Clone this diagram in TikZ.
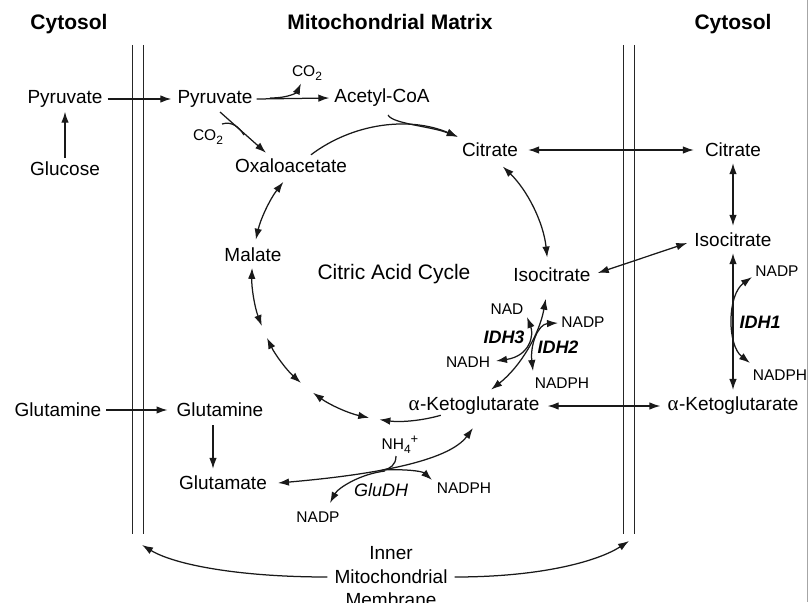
\documentclass[tikz,border=0pt]{standalone}
\usepackage{fontspec}
\setmainfont{Liberation Sans}
\newfontfamily\grk{Liberation Serif}
\usetikzlibrary{arrows.meta,calc}
\newcommand\alphaK{{\grk\fontsize{21}{22}\selectfont α}\kern0.5pt-Ketoglutarate}
\newcommand\cotwo{CO\raisebox{-0.45ex}{\fontsize{12}{12}\selectfont 2}}
\begin{document}
\begin{tikzpicture}[x=1pt,y=1pt,
  lbl/.style={inner sep=0pt, font=\fontsize{19}{22}\selectfont},
  sml/.style={inner sep=0pt, font=\fontsize{15.5}{18}\selectfont},
  hdr/.style={inner sep=0pt, anchor=base, font=\bfseries\fontsize{21}{24}\selectfont},
  enz/.style={inner sep=0pt, font=\bfseries\itshape\fontsize{18}{21}\selectfont},
  enzi/.style={inner sep=0pt, font=\itshape\fontsize{18}{21}\selectfont},
  ln/.style={line width=1.25pt, draw=black!90},
  arr/.style={ln, -{Latex[length=11pt,width=7.5pt]}},
  dbl/.style={ln, {Latex[length=11pt,width=7.5pt]}-{Latex[length=11pt,width=7.5pt]}},
  mem/.style={line width=0.9pt, draw=black!85}
]
\useasboundingbox (0,0) rectangle (808,-602);
\draw[gray!70, line width=1pt] (807,0) -- (807,-602);

% membranes
\draw[mem] (132,-45) -- (132,-534);
\draw[mem] (143,-45) -- (143,-534);
\draw[mem] (623,-45) -- (623,-534);
\draw[mem] (634,-45) -- (634,-534);

% headers
\node[hdr] (cytL) at (69,-30) {Cytosol};
\node[hdr] (matrix) at (390,-30) {Mitochondrial Matrix};
\node[hdr] (cytR) at (733,-30) {Cytosol};

% metabolites
\node[lbl] (pyrC) at (65,-99) {Pyruvate};
\node[lbl] (glc) at (65,-169) {Glucose};
\node[lbl] (pyrM) at (215,-99) {Pyruvate};
\node[lbl] (acoa) at (382,-98) {Acetyl-CoA};
\node[sml] (co2a) at (307,-73) {\cotwo};
\node[sml] (co2b) at (208,-137) {\cotwo};
\node[lbl] (oaa) at (291,-166) {Oxaloacetate};
\node[lbl] (citM) at (490,-150) {Citrate};
\node[lbl] (citC) at (733,-150) {Citrate};
\node[lbl] (isoC) at (733,-240) {Isocitrate};
\node[lbl] (isoM) at (552,-275) {Isocitrate};
\node[lbl] (mal) at (253,-255) {Malate};
\node[lbl, font=\fontsize{21}{24}\selectfont] (cac) at (394,-274) {Citric Acid Cycle};
\node[lbl] (akgM) at (474,-406) {\alphaK};
\node[lbl] (akgC) at (733,-406) {\alphaK};
\node[lbl] (glnC) at (58,-410) {Glutamine};
\node[lbl] (glnM) at (220,-410) {Glutamine};
\node[lbl] (glu) at (223,-483) {Glutamate};

% cofactors / enzymes
\node[sml] (nad) at (507,-309) {NAD};
\node[sml] (nadh) at (468,-362) {NADH};
\node[sml] (nadp2) at (583,-322) {NADP};
\node[sml] (nadph2) at (562,-383) {NADPH};
\node[enz] (idh3) at (504,-337) {IDH3};
\node[enz] (idh2) at (558,-347) {IDH2};
\node[sml] (nadp1) at (777,-271) {NADP};
\node[sml] (nadph1) at (780,-375) {NADPH};
\node[enz] (idh1) at (760,-322) {IDH1};
\node[sml] (nh4) at (400,-445) {NH\raisebox{-0.45ex}{\fontsize{12}{12}\selectfont 4}\raisebox{0.75ex}{\fontsize{13}{13}\selectfont +}};
\node[enzi] (gludh) at (381,-490) {GluDH};
\node[sml] (nadph3) at (464,-488) {NADPH};
\node[sml] (nadp3) at (318,-517) {NADP};

% membrane label
\node[lbl] (inner) at (391,-553) {Inner};
\node[lbl] (mitoch) at (391,-577) {Mitochondrial};
\node[lbl] (membr) at (391,-600) {Membrane};

% straight connectors
\draw[arr] ([yshift=4pt]glc.north) -- ([yshift=-4pt]pyrC.south);
\draw[arr] ([xshift=5pt]pyrC.east) -- ([xshift=-6pt]pyrM.west);
\draw[arr] ([xshift=4pt]pyrM.east) -- ([xshift=-5pt]acoa.west);
\draw[arr] ([xshift=5pt]glnC.east) -- ([xshift=-9pt]glnM.west);
\draw[arr] ([shift={(-7pt,-8pt)}]glnM.south) -- ([shift={(-10pt,7pt)}]glu.north);
\draw[dbl] ([xshift=10pt]citM.east) -- ([xshift=-11pt]citC.west);
\draw[dbl] ([yshift=-6pt]citC.south) -- ([yshift=7pt]isoC.north);
\draw[dbl] ([yshift=-6pt]isoC.south) -- ([yshift=7pt]akgC.north);
\draw[dbl] ([shift={(7pt,2pt)}]isoM.east) -- ([shift={(-7pt,-3pt)}]isoC.west);
\draw[dbl] ([xshift=8pt]akgM.east) -- ([xshift=-7pt]akgC.west);

% CO2 side arrows
\coordinate (pyrSplit) at (270,-98);
\draw[arr] (pyrSplit) .. controls (290,-98) and (297,-92) .. ([shift={(-6pt,-3pt)}]co2a.south);
\coordinate (pyrOut) at (220,-112);
\draw[arr] (pyrOut) -- ([shift={(-25pt,6pt)}]oaa.north);
\coordinate (co2bIn) at (222,-124);
\coordinate (co2bJoin) at (244,-135);
\draw[ln] (co2bIn) .. controls (232,-121) and (239,-127) .. (co2bJoin);

% citric acid cycle
\coordinate (C) at (400,-273);
\coordinate (a127) at ($(C)+(127:148)$);
\coordinate (a67) at ($(C)+(67:148)$);
\coordinate (a46) at ($(C)+(46:148)$);
\coordinate (a6) at ($(C)+(6:148)$);
\coordinate (am10) at ($(C)+(-10:148)$);
\coordinate (am74) at ($(C)+(-74:148)$);
\coordinate (am102) at ($(C)+(-102:148)$);
\coordinate (am132) at ($(C)+(-132:148)$);
\coordinate (am159) at ($(C)+(-159:148)$);
\coordinate (a167) at ($(C)+(167:148)$);

\draw[arr] (a127) arc[start angle=127, end angle=67, radius=148];
\draw[arr] ([shift={(6pt,-8pt)}]acoa.south) .. controls (393,-124) and (430,-126) .. (a67);
\draw[dbl] (a46) arc[start angle=46, end angle=6, radius=148];
\draw[dbl] (am10) arc[start angle=-10, end angle=-52, radius=148];
\draw[arr] (am74) arc[start angle=-74, end angle=-98, radius=148];
\draw[dbl] (am102) arc[start angle=-102, end angle=-126, radius=148];
\draw[dbl] (am132) arc[start angle=-132, end angle=-154, radius=148];
\draw[dbl] (am159) arc[start angle=-159, end angle=-182, radius=148];
\draw[dbl] (a167) arc[start angle=167, end angle=142, radius=148];

% IDH3 / IDH2
\coordinate (nadT) at (527,-317);
\coordinate (nadhT) at (496,-361);
\coordinate (nadp2T) at (558,-323);
\coordinate (nadph2T) at (533,-371);
\draw[dbl] (nadT) .. controls (534,-335) and (530,-356) .. (nadhT);
\draw[dbl] (nadp2T) .. controls (538,-324) and (530,-345) .. (nadph2T);

% IDH1
\coordinate (nadp1T) at (752,-277);
\coordinate (nadph1T) at (750,-363);
\draw[dbl] (nadph1T) .. controls (727,-345) and (727,-295) .. (nadp1T);

% GluDH
\coordinate (gluT) at (278,-483);
\coordinate (akgT) at (473,-428);
\draw[dbl] (gluT) .. controls (370,-475) and (448,-462) .. (akgT);
\coordinate (nh4S) at (396,-456);
\coordinate (gjoin) at (383,-470);
\coordinate (nadph3T) at (432,-480);
\coordinate (nadp3T) at (330,-503);
\draw[arr] (nh4S) .. controls (396,-465) and (390,-469) .. (gjoin) .. controls (405,-469) and (422,-471) .. (nadph3T);
\draw[arr] (385,-471) .. controls (360,-474) and (338,-488) .. (nadp3T);

% membrane arrows
\coordinate (memL) at (142,-545);
\coordinate (memR) at (629,-541);
\draw[arr] ([xshift=-7pt]mitoch.west) .. controls (240,-577) and (175,-565) .. (memL);
\draw[arr] ([xshift=7pt]mitoch.east) .. controls (545,-577) and (600,-560) .. (memR);
\end{tikzpicture}
\end{document}
